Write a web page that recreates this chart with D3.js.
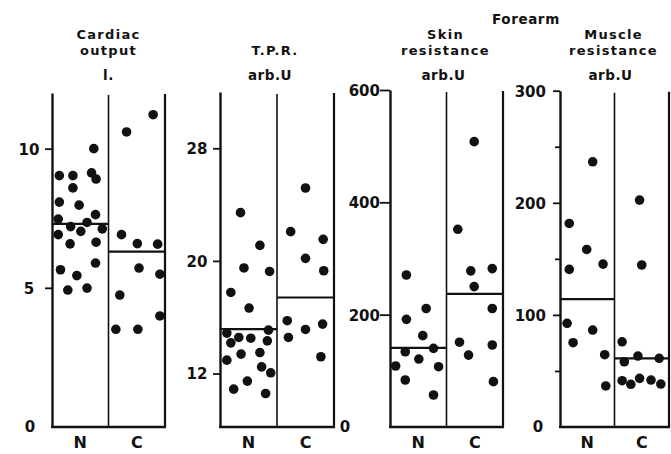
<!DOCTYPE html>
<html>
<head>
<meta charset="utf-8">
<script src="https://cdn.jsdelivr.net/npm/d3@7"></script>
<style>
  html, body { margin: 0; padding: 0; background: #fff; }
  svg { display: block; }
  text { font-family: "DejaVu Sans", sans-serif; font-weight: bold; fill: #111; }
</style>
</head>
<body>
<svg id="chart" width="671" height="454"></svg>
<script>
// ---- data -------------------------------------------------------------
const groups = ["N", "C"];

// Cardiac output (l.)
const cardiacN = [10.0, 9.03, 9.03, 9.13, 8.91, 8.59, 8.08, 7.97, 7.63, 7.47, 7.20,
                  7.35, 7.12, 7.03, 6.91, 6.58, 6.64, 5.89, 5.65, 5.44, 4.92, 4.99];
const cardiacNJitter = [0.74, 0.13, 0.37, 0.70, 0.78, 0.37, 0.13, 0.48, 0.77, 0.11, 0.33,
                        0.62, 0.89, 0.51, 0.11, 0.32, 0.78, 0.77, 0.15, 0.44, 0.28, 0.62];
const cardiacC = [11.22, 10.6, 6.91, 6.59, 6.57, 5.71, 5.49, 4.74, 3.99, 3.51, 3.51];
const cardiacCJitter = [0.79, 0.32, 0.23, 0.51, 0.87, 0.54, 0.91, 0.20, 0.91, 0.13, 0.52];
const cardiacMean = [7.3, 6.3];
const cardiacTicks = [5, 10];

// Total peripheral resistance (arb.U)
const tprN = [23.43, 21.1, 19.5, 19.25, 17.76, 16.65, 15.08, 14.87, 14.56, 14.51,
              14.18, 14.32, 13.49, 13.38, 12.95, 12.47, 12.05, 11.46, 10.89, 10.58];
const tprNJitter = [0.36, 0.70, 0.42, 0.87, 0.19, 0.51, 0.85, 0.12, 0.33, 0.54,
                    0.19, 0.83, 0.70, 0.37, 0.12, 0.73, 0.89, 0.48, 0.24, 0.80];
const tprC = [25.18, 22.08, 21.53, 20.18, 19.3, 15.75, 15.51, 15.13, 14.56, 13.19];
const tprCJitter = [0.50, 0.24, 0.81, 0.50, 0.82, 0.18, 0.80, 0.50, 0.20, 0.77];
const tprMean = [15.15, 17.4];
const tprTicks = [12, 20, 28];

// Forearm skin resistance (arb.U)
const skinN = [270.6, 211, 191.7, 162.6, 134, 140, 121, 108.6, 107.4, 83.7, 57];
const skinNJitter = [0.29, 0.64, 0.29, 0.58, 0.27, 0.77, 0.51, 0.10, 0.86, 0.27, 0.77];
const skinC = [508, 352, 278, 282, 250, 211, 151, 146, 128, 80.7];
const skinCJitter = [0.49, 0.20, 0.43, 0.81, 0.49, 0.81, 0.23, 0.81, 0.39, 0.83];
const skinMean = [141, 237];
const skinTicks = [200, 400, 600];

// Forearm muscle resistance (arb.U)
const muscleN = [236.6, 181.6, 158.4, 140.6, 145.3, 92.5, 86.5, 75.2, 64.5, 36.6];
const muscleNJitter = [0.60, 0.17, 0.49, 0.17, 0.79, 0.13, 0.60, 0.24, 0.82, 0.84];
const muscleC = [202.4, 144.5, 76, 58.2, 63.3, 61.3, 41.3, 38.1, 43.4, 41.9, 38.3];
const muscleCJitter = [0.46, 0.50, 0.14, 0.18, 0.43, 0.82, 0.14, 0.30, 0.46, 0.67, 0.85];
const muscleMean = [114, 61.3];
const muscleTicks = [100, 200, 300];
const muscleMinorTicks = [50, 150, 250];

const titles = [["Cardiac", "output"], ["T.P.R."], ["Skin", "resistance"], ["Muscle", "resistance"]];
const units = ["l.", "arb.U", "arb.U", "arb.U"];
const sectionLabel = "Forearm";

// ---- layout -----------------------------------------------------------
const bottom = 427;
const panels = [
  { N: cardiacN, NJ: cardiacNJitter, C: cardiacC, CJ: cardiacCJitter, mean: cardiacMean,
    ticks: cardiacTicks, domain: [0, 12], left: 52, width: 113, top: 93,
    tickLen: 7, labelX: -23, labelAnchor: "middle", zeroX: -22, titleDx: 0, unitDx: 0 },
  { N: tprN, NJ: tprNJitter, C: tprC, CJ: tprCJitter, mean: tprMean,
    ticks: tprTicks, domain: [8.2, 32], left: 220, width: 114, top: 92,
    tickLen: 7, labelX: -23, labelAnchor: "middle", zeroX: null, titleDx: -2, unitDx: -7 },
  { N: skinN, NJ: skinNJitter, C: skinC, CJ: skinCJitter, mean: skinMean,
    ticks: skinTicks, domain: [0, 600], left: 390, width: 113, top: 90,
    tickLen: 10, labelX: -10, labelAnchor: "end", zeroX: -45, titleDx: -1, unitDx: -3 },
  { N: muscleN, NJ: muscleNJitter, C: muscleC, CJ: muscleCJitter, mean: muscleMean,
    ticks: muscleTicks, minor: muscleMinorTicks, domain: [0, 300], left: 560, width: 109, top: 90.7,
    tickLen: 7, labelX: -14, labelAnchor: "end", zeroX: -22, titleDx: -1, unitDx: -4 }
];

const svg = d3.select("#chart");

panels.forEach((p, i) => {
  const g = svg.append("g");
  const y = d3.scaleLinear().domain(p.domain).range([bottom, p.top]);
  const x = d3.scaleBand().domain(groups).range([p.left, p.left + p.width]);
  const jitter = d3.scaleLinear().domain([0, 1]).range([0, x.bandwidth()]);
  const right = p.left + p.width;

  // left axis with ticks
  const axis = g.append("g")
    .attr("transform", `translate(${p.left},0)`)
    .call(d3.axisLeft(y).tickValues(p.ticks).tickSize(p.tickLen).tickSizeOuter(0)
      .tickFormat(d3.format("d")));
  axis.select(".domain").attr("stroke", "#111").attr("stroke-width", 2.4);
  axis.selectAll(".tick line").attr("stroke", "#111").attr("stroke-width", 1.8);
  axis.selectAll(".tick text")
    .attr("x", p.labelX).attr("dy", "0.36em")
    .attr("text-anchor", p.labelAnchor)
    .style("font-family", "\"DejaVu Sans\", sans-serif").style("font-weight", "bold")
    .style("font-size", "15px").attr("fill", "#111");

  if (p.minor) {
    g.append("g").attr("transform", `translate(${p.left},0)`)
      .call(d3.axisLeft(y).tickValues(p.minor).tickSize(5).tickFormat(""))
      .call(s => s.select(".domain").remove())
      .selectAll(".tick line").attr("stroke", "#111").attr("stroke-width", 1.8);
  }

  if (p.zeroX !== null) {
    g.append("text").attr("x", p.left + p.zeroX).attr("y", bottom).attr("dy", "0.36em")
      .attr("text-anchor", "middle").style("font-size", "15px").text("0");
  }

  // frame: divider, right edge, baseline
  g.append("line").attr("x1", x("C")).attr("x2", x("C"))
    .attr("y1", p.top + 2).attr("y2", bottom)
    .attr("stroke", "#111").attr("stroke-width", 1.6);
  g.append("line").attr("x1", right).attr("x2", right)
    .attr("y1", p.top + 1).attr("y2", bottom + 1)
    .attr("stroke", "#111").attr("stroke-width", 2.2);
  g.append("line").attr("x1", p.left - 1).attr("x2", right + 1)
    .attr("y1", bottom).attr("y2", bottom)
    .attr("stroke", "#111").attr("stroke-width", 2.4);

  // group labels
  g.selectAll("text.grp").data(groups).join("text").attr("class", "grp")
    .attr("x", d => x(d) + x.bandwidth() / 2).attr("y", 448)
    .attr("text-anchor", "middle").style("font-size", "16px").text(d => d);

  // mean lines
  g.selectAll("line.mean").data(groups).join("line").attr("class", "mean")
    .attr("x1", d => x(d)).attr("x2", d => x(d) + x.bandwidth())
    .attr("y1", (d, k) => y(p.mean[k])).attr("y2", (d, k) => y(p.mean[k]))
    .attr("stroke", "#111").attr("stroke-width", 2.2);

  // individual subjects
  const pts = [];
  p.N.forEach((v, k) => pts.push({ g: "N", v, j: p.NJ[k] }));
  p.C.forEach((v, k) => pts.push({ g: "C", v, j: p.CJ[k] }));
  g.selectAll("circle").data(pts).join("circle")
    .attr("cx", d => x(d.g) + jitter(d.j))
    .attr("cy", d => y(d.v))
    .attr("r", 4.8).attr("fill", "#111");

  // title block: stacked lines
  const cx = p.left + p.width / 2 + p.titleDx;
  const lines = titles[i];
  const title = g.append("text").attr("text-anchor", "middle")
    .style("font-size", "13px").style("letter-spacing", "1.3px");
  title.selectAll("tspan").data(lines).join("tspan")
    .attr("x", cx)
    .attr("y", (d, k) => lines.length === 2 ? (k === 0 ? 38.5 : 54.5) : 55)
    .text(d => d);
  g.append("text").attr("x", p.left + p.width / 2 + p.unitDx).attr("y", 80)
    .attr("text-anchor", "middle").style("font-size", "13.5px").style("letter-spacing", "0.5px")
    .text(units[i]);
});

svg.append("text").attr("x", 492).attr("y", 24).style("font-size", "13.5px")
  .style("letter-spacing", "0.6px").text(sectionLabel);
</script>
</body>
</html>
